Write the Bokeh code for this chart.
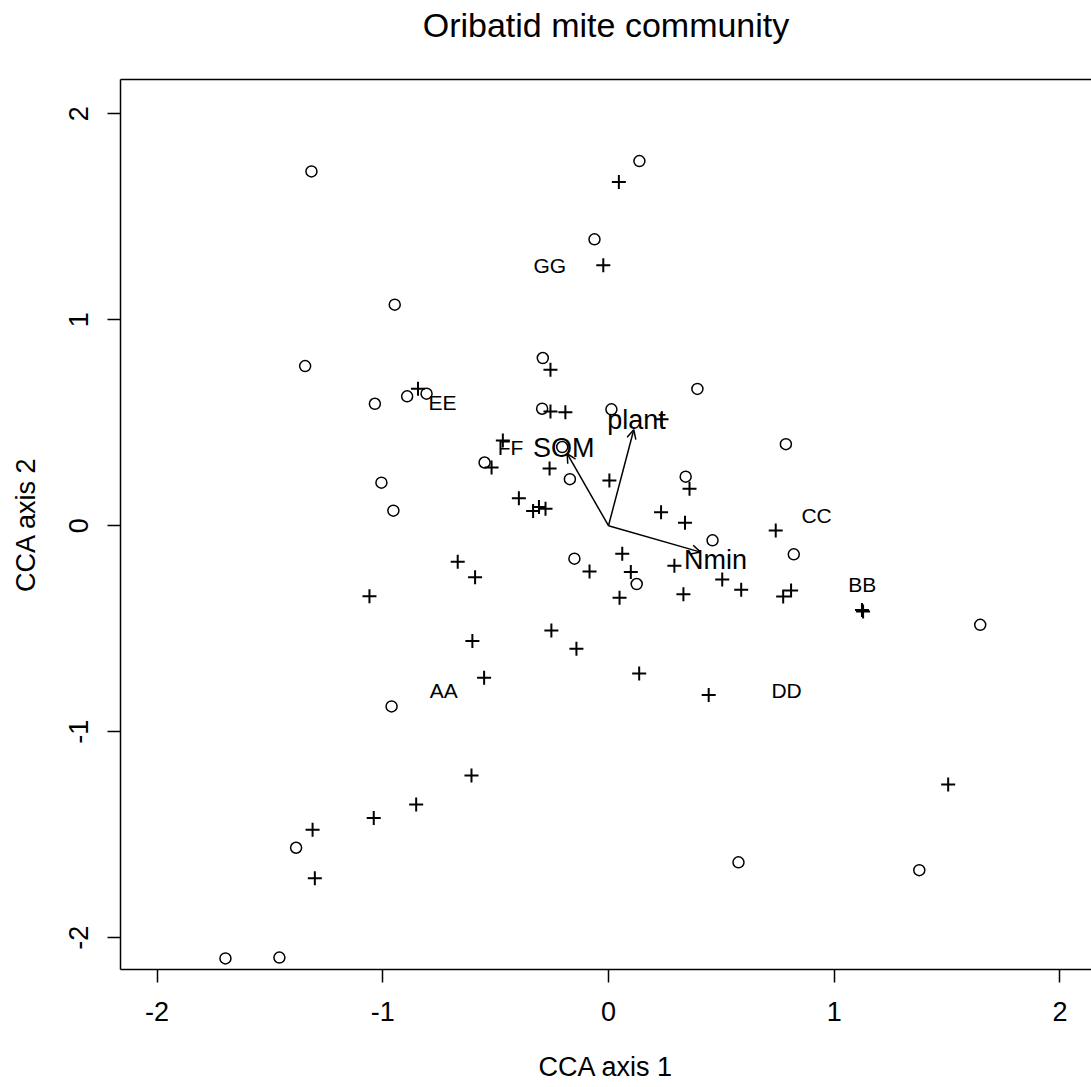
from bokeh.plotting import figure
from bokeh.models import Range1d, FixedTicker, LinearAxis, ColumnDataSource, Arrow, OpenHead
from bokeh.core.properties import value
from bokeh.embed import file_html
from bokeh.resources import INLINE

# Site scores (circles)
site_x = [-1.316, 0.137, -0.062, -0.947, -1.344, -0.291, 0.394, -1.035, -0.892, -0.806,
          -0.294, 0.013, 0.786, -0.205, -0.549, -0.171, 0.342, -1.006, -0.953, 0.461,
          -0.151, 0.821, 0.125, 1.647, -0.961, 0.576, 1.377, -1.384, -1.697, -1.458]
site_y = [1.720, 1.770, 1.390, 1.073, 0.775, 0.814, 0.664, 0.592, 0.628, 0.641,
          0.568, 0.565, 0.396, 0.382, 0.307, 0.226, 0.238, 0.209, 0.073, -0.071,
          -0.160, -0.139, -0.283, -0.481, -0.877, -1.634, -1.672, -1.563, -2.100, -2.096]

# Species scores (plus signs)
spec_x = [0.046, -0.023, -0.844, -0.257, -0.257, -0.191, 0.235, -0.468, -0.518, -0.261,
          0.004, 0.359, -0.397, -0.334, -0.308, -0.279, 0.233, 0.339, 0.741, 0.061,
          -0.668, 0.292, 0.099, -0.591, -0.084, 0.504, 0.588, 0.332, 0.049, 0.809,
          0.774, -1.059, 1.123, 1.128, -0.603, -0.253, -0.142, -0.551, 0.136, 0.444,
          -0.607, 1.505, -0.852, -1.040, -1.311, -1.301]
spec_y = [1.668, 1.264, 0.665, 0.757, 0.555, 0.551, 0.517, 0.414, 0.283, 0.278,
          0.220, 0.179, 0.134, 0.071, 0.091, 0.083, 0.065, 0.014, -0.023, -0.136,
          -0.175, -0.194, -0.225, -0.250, -0.222, -0.261, -0.311, -0.333, -0.350, -0.314,
          -0.343, -0.342, -0.409, -0.416, -0.560, -0.508, -0.597, -0.738, -0.717, -0.821,
          -1.212, -1.256, -1.353, -1.419, -1.476, -1.711]

# Factor centroids
cent_lab = ["AA", "BB", "CC", "DD", "EE", "FF", "GG"]
cent_x = [-0.730, 1.124, 0.922, 0.789, -0.735, -0.434, -0.260]
cent_y = [-0.800, -0.285, 0.048, -0.800, 0.596, 0.380, 1.264]

# Environmental biplot arrows
env_lab = ["SOM", "plant", "Nmin"]
env_x = [-0.183, 0.112, 0.408]
env_y = [0.350, 0.466, -0.128]
env_lab_x = [-0.198, 0.124, 0.474]
env_lab_y = [0.379, 0.515, -0.164]

ticks = [-2, -1, 0, 1, 2]
tick_labels = ["-2", "-1", "0", "1", "2"]
TITLE = "Oribatid mite community"
FONT = "Liberation Sans"

p = figure(width=1091, height=1087, output_backend="svg", toolbar_location=None,
           x_range=Range1d(-2.162, 2.140), y_range=Range1d(-2.154, 2.166),
           min_border_left=120, min_border_right=0, min_border_top=79, min_border_bottom=118,
           x_axis_label="CCA axis 1", y_axis_label="CCA axis 2")
p.outline_line_color = None
p.grid.visible = False
p.background_fill_color = "white"
p.border_fill_color = "white"

p.title.text = TITLE
p.title.align = "center"
p.title.text_font = FONT
p.title.text_font_size = "34px"
p.title.text_font_style = "normal"
p.title.text_color = "black"
p.title.standoff = 8
p.title.vertical_align = "top"

for ax in (p.xaxis[0], p.yaxis[0]):
    ax.ticker = FixedTicker(ticks=ticks)
    ax.major_label_overrides = {t: s for t, s in zip(ticks, tick_labels)}
    ax.minor_tick_line_color = None
    ax.major_tick_in = 0
    ax.major_tick_out = 13
    ax.major_tick_line_width = 1.5
    ax.axis_line_width = 1.5
    ax.axis_line_color = "black"
    ax.major_tick_line_color = "black"
    ax.major_label_text_font = FONT
    ax.major_label_text_font_size = "27px"
    ax.major_label_text_color = "black"
    ax.major_label_text_line_height = 1.0
    ax.axis_label_text_font = FONT
    ax.axis_label_text_font_size = "27px"
    ax.axis_label_text_font_style = "normal"
    ax.axis_label_text_color = "black"
    ax.axis_label_text_line_height = 1.0

p.xaxis[0].major_label_standoff = 19
p.xaxis[0].axis_label_standoff = 28
p.yaxis[0].major_label_orientation = "vertical"
p.yaxis[0].major_label_standoff = 19
p.yaxis[0].axis_label_standoff = 26

# frame's top border line; an invisible spacer label lifts the title
top = LinearAxis(ticker=FixedTicker(ticks=[]), major_label_text_font_size="0px",
                 major_tick_out=0, major_tick_in=0, minor_tick_out=0, minor_tick_in=0,
                 major_label_standoff=0, axis_label="\u00a0", axis_label_standoff=4,
                 axis_label_text_font_size="21px", axis_label_text_line_height=1.0,
                 axis_label_text_color="white",
                 axis_line_width=1.5, axis_line_color="black")
p.add_layout(top, "above")

p.scatter(site_x, site_y, marker="circle", size=11, fill_color=None,
          line_color="black", line_width=1.5)
p.scatter(spec_x, spec_y, marker="cross", size=14, line_color="black", line_width=2.0)

p.text(x=cent_x, y=cent_y, text=cent_lab, text_font=value(FONT), text_font_size="21px",
       text_align="center", text_baseline="middle", text_color="black")

arr_src = ColumnDataSource(dict(x0=[0, 0, 0], y0=[0, 0, 0], x1=env_x, y1=env_y))
p.add_layout(Arrow(end=OpenHead(size=9, line_width=1.5, line_color="black"),
                   x_start="x0", y_start="y0", x_end="x1", y_end="y1",
                   line_width=1.5, line_color="black", source=arr_src))
p.text(x=env_lab_x, y=env_lab_y, text=env_lab, text_font=value(FONT), text_font_size="27px",
       text_align="center", text_baseline="middle", text_color="black")

open("out.html", "w").write(file_html(p, INLINE))
